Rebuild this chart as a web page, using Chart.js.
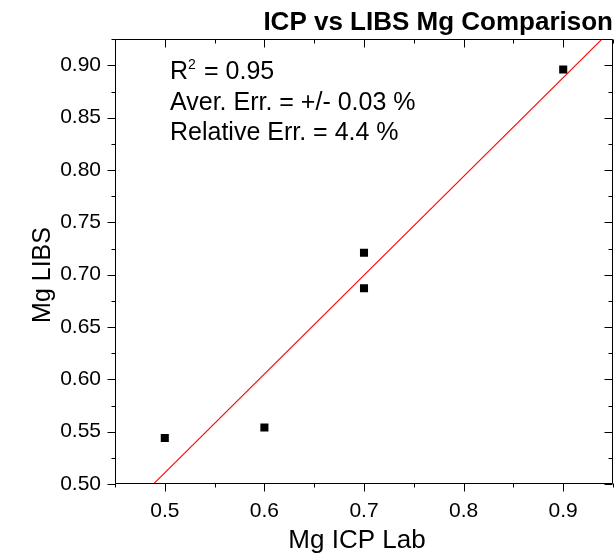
<!DOCTYPE html>
<html><head><meta charset="utf-8">
<script src="https://cdn.jsdelivr.net/npm/chart.js@4.4.1/dist/chart.umd.min.js"></script>
<style>html,body{margin:0;padding:0;background:#fff}</style>
</head><body>
<canvas id="c" width="614" height="558"></canvas>
<script>
// ---- data ----
const icpLab = [0.5, 0.6, 0.7, 0.7, 0.9];
const mgLibs = [0.544, 0.554, 0.721, 0.687, 0.896];
const fitX = [0.45, 0.95];
const fitY = [0.4635, 0.9355];
const xTickValues = [0.5, 0.6, 0.7, 0.8, 0.9];
const xTickLabels = ['0.5', '0.6', '0.7', '0.8', '0.9'];
const xMinorValues = [0.45, 0.55, 0.65, 0.75, 0.85, 0.95];
const yTickValues = [0.5, 0.55, 0.6, 0.65, 0.7, 0.75, 0.8, 0.85, 0.9];
const yTickLabels = ['0.50', '0.55', '0.60', '0.65', '0.70', '0.75', '0.80', '0.85', '0.90'];
const yMinorValues = [0.525, 0.575, 0.625, 0.675, 0.725, 0.775, 0.825, 0.875, 0.925];
const chartTitle = 'ICP vs LIBS Mg Comparison';
const xTitle = 'Mg ICP Lab';
const yTitle = 'Mg LIBS';
const statR2 = '0.95';
const statLines = ['Aver. Err. = +/- 0.03 %', 'Relative Err. = 4.4 %'];

const FONT = '"Liberation Sans", Arial, sans-serif';

const framePlugin = {
  id: 'frame',
  afterDraw(chart) {
    const ctx = chart.ctx, a = chart.chartArea;
    const xs = chart.scales.x, ys = chart.scales.y;
    ctx.save();
    ctx.beginPath();
    ctx.strokeStyle = '#000';
    ctx.lineWidth = 1;
    const L = Math.round(a.left) + 0.5, R = Math.round(a.right) - 0.5;
    const T = Math.round(a.top) + 0.5, B = Math.round(a.bottom) - 0.5;
    ctx.rect(L, T, R - L, B - T);
    const major = 8, minor = 4;
    const tickX = (vals, len) => vals.forEach(v => {
      const px = Math.round(xs.getPixelForValue(v)) + 0.5;
      ctx.moveTo(px, B); ctx.lineTo(px, B + len);
      ctx.moveTo(px, T); ctx.lineTo(px, T + len);
    });
    const tickY = (vals, len) => vals.forEach(v => {
      const py = Math.round(ys.getPixelForValue(v)) + 0.5;
      ctx.moveTo(L, py); ctx.lineTo(L - len, py);
      ctx.moveTo(R, py); ctx.lineTo(R - len, py);
    });
    tickX(xTickValues, major); tickX(xMinorValues, minor);
    tickY(yTickValues, major); tickY(yMinorValues, minor);
    ctx.stroke();
    ctx.beginPath();

    // axis titles
    ctx.fillStyle = '#000';
    ctx.textAlign = 'center';
    ctx.textBaseline = 'alphabetic';
    ctx.font = '26px ' + FONT;
    ctx.fillText(xTitle, 357, 548);
    ctx.font = '25px ' + FONT;
    ctx.translate(50, 275);
    ctx.rotate(-Math.PI / 2);
    ctx.fillText(yTitle, 0, 0);
    ctx.restore();

    // statistics annotation
    ctx.save();
    ctx.fillStyle = '#000';
    ctx.textAlign = 'left';
    ctx.textBaseline = 'alphabetic';
    const x0 = 170;
    ctx.font = '25px ' + FONT;
    ctx.fillText('R', x0, 79);
    ctx.font = '14px ' + FONT;
    ctx.fillText('2', 188, 69);
    ctx.font = '25px ' + FONT;
    ctx.fillText('= ' + statR2, 204, 79);
    statLines.forEach((t, i) => ctx.fillText(t, x0, 110 + i * 30));
    ctx.restore();
  }
};

new Chart(document.getElementById('c'), {
  data: {
    datasets: [
      {
        type: 'line',
        data: fitX.map((x, i) => ({ x, y: fitY[i] })),
        borderColor: 'rgb(255,0,0)',
        borderWidth: 1.1,
        pointRadius: 0,
        fill: false,
        order: 2
      },
      {
        type: 'scatter',
        data: icpLab.map((x, i) => ({ x, y: mgLibs[i] })),
        pointStyle: 'rect',
        pointRadius: 5.7,
        pointHoverRadius: 5.7,
        backgroundColor: '#000',
        borderColor: '#000',
        borderWidth: 0,
        order: 1
      }
    ]
  },
  options: {
    responsive: false,
    animation: false,
    events: [],
    layout: { autoPadding: false, padding: { right: 1, left: 0, top: 0, bottom: 0 } },
    plugins: {
      legend: { display: false },
      tooltip: { enabled: false },
      title: {
        display: true,
        text: chartTitle,
        align: 'end',
        color: '#000',
        font: { family: FONT, size: 26, weight: 'bold', lineHeight: 1.2 },
        padding: { top: 7, bottom: 1 }
      }
    },
    scales: {
      x: {
        type: 'linear',
        min: 0.45, max: 0.95,
        grid: { display: false, drawTicks: false },
        border: { display: false },
        afterBuildTicks: s => { s.ticks = xTickValues.map(v => ({ value: v })); },
        afterFit: s => { s.height = 74; s.paddingLeft = 0; s.paddingRight = 0; },
        ticks: {
          color: '#000',
          padding: 15,
          maxRotation: 0,
          autoSkip: false,
          font: { family: FONT, size: 21 },
          callback: (v, i) => xTickLabels[i]
        }
      },
      y: {
        type: 'linear',
        min: 0.5, max: 0.925,
        grid: { display: false, drawTicks: false },
        border: { display: false },
        afterBuildTicks: s => { s.ticks = yTickValues.map(v => ({ value: v })); },
        afterFit: s => { s.width = 115; s.paddingTop = 0; s.paddingBottom = 0; },
        ticks: {
          color: '#000',
          padding: 14,
          autoSkip: false,
          font: { family: FONT, size: 21 },
          callback: (v, i) => yTickLabels[i]
        }
      }
    }
  },
  plugins: [framePlugin]
});
</script>
</body></html>
